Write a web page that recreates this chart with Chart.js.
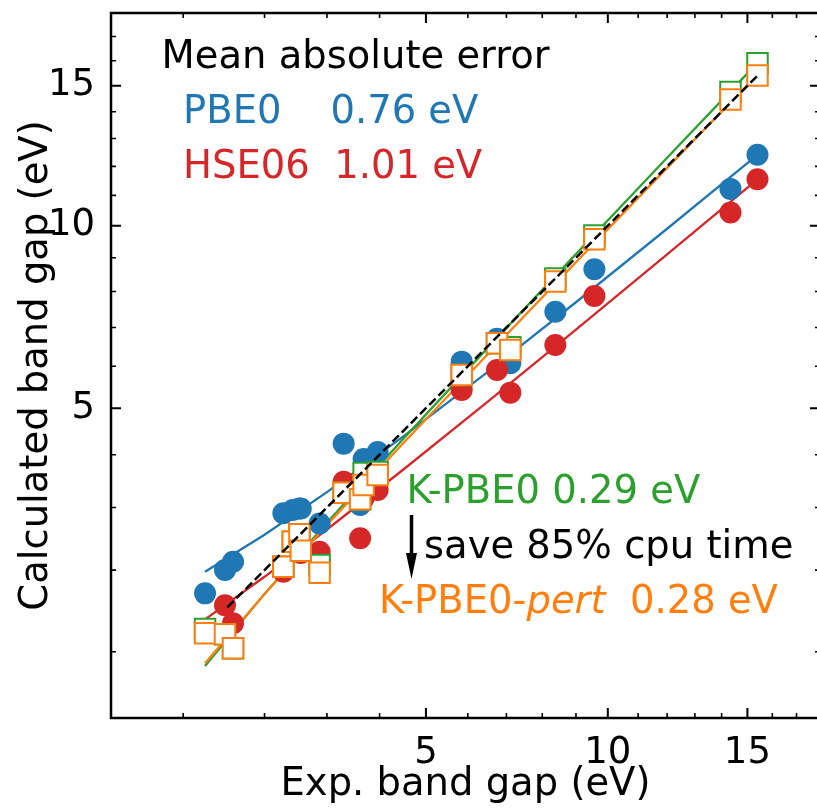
<!DOCTYPE html>
<html><head><meta charset="utf-8">
<script src="https://cdn.jsdelivr.net/npm/chart.js@4.4.1/dist/chart.umd.min.js"></script>
<style>
html,body{margin:0;padding:0;background:#fff;overflow:hidden;}
#wrap{width:817px;height:810px;overflow:hidden;position:relative;}
canvas{display:block;}
</style>
</head><body>
<div id="wrap"><canvas id="c" width="830" height="810"></canvas></div>
<script>
// ---- data (eV) ----
const expGap    = [1.235, 1.471, 1.572, 2.280, 2.428, 2.534, 2.556, 2.872, 3.302, 3.614, 3.682, 3.961, 5.848, 6.749, 7.106, 8.381, 9.572, 14.34, 15.40];
const pbe0      = [1.680, 2.001, 2.122, 2.900, 2.956, 2.983, 2.983, 2.725, 4.228, 3.044, 3.914, 4.055, 6.114, 6.700, 6.073, 7.433, 8.654, 11.22, 12.41];
const hse06     = [1.232, 1.526, 1.309, 1.977, 2.428, 2.551, 2.253, 2.273, 3.471, 2.483, 3.164, 3.316, 5.424, 5.906, 5.360, 6.540, 7.875, 10.43, 11.55];
const kpbe0     = [1.243, 1.184, 1.034, 2.049, 2.428, 2.547, 2.289, 2.074, 3.266, 3.146, 3.638, 3.657, 5.784, 6.584, 6.480, 8.382, 9.693, 14.76, 15.90];
const kpbe0pert = [1.195, 1.184, 1.034, 2.049, 2.428, 2.547, 2.289, 1.963, 3.266, 3.146, 3.409, 3.599, 5.784, 6.584, 6.410, 8.289, 9.573, 14.47, 15.41];
// fitted trend lines
const fitX         = [1.235, 2, 3, 4.5, 6.5, 9, 12, 15.4];
const fitPbe0      = [1.977, 2.540, 3.277, 4.381, 5.854, 7.696, 9.905, 12.409];
const fitHse06     = [1.355, 1.905, 2.625, 3.705, 5.144, 6.943, 9.102, 11.549];
const fitKpbe0     = [0.860, 1.673, 2.736, 4.331, 6.457, 9.114, 12.303, 15.917];
const fitKpbe0pert = [0.885, 1.671, 2.699, 4.240, 6.295, 8.864, 11.946, 15.440];
const diagX = [1.5, 15.4];
// axes
const tickValues = [1,2,3,4,5,6,7,8,9,10,11,12,13,14,15,16,17];
const tickLabels = {5:'5', 10:'10', 15:'15'};
const xRange = [0.4, 18.0];
const yRange = [0.44, 18.0];

const C_BLUE='#1f77b4', C_RED='#d62728', C_GREEN='#2ca02c', C_ORANGE='#ff7f0e';
const FS = 38.5;

// ---- square-root scale ----
const Linear = Chart.LinearScale || Chart.registry.getScale('linear');
class SqrtScale extends Linear {
  buildTicks() {
    return tickValues.filter(v => v >= this.min && v <= this.max)
      .map(v => ({value: v}));
  }
  configure() {
    super.configure();
    this._s0 = Math.sqrt(this.min);
    this._s1 = Math.sqrt(this.max);
  }
  getPixelForValue(v) {
    return this.getPixelForDecimal((Math.sqrt(Math.max(v, 0)) - this._s0) / (this._s1 - this._s0));
  }
  getValueForPixel(p) {
    const s = this._s0 + this.getDecimalForPixel(p) * (this._s1 - this._s0);
    return s * s;
  }
}
SqrtScale.id = 'sqrt';
SqrtScale.defaults = Linear.defaults;
Chart.register(SqrtScale);

Chart.defaults.font.family = 'DejaVu Sans';
Chart.defaults.color = '#000';

const pts = (xs, ys) => xs.map((x, i) => ({x, y: ys[i]}));

const decor = {
  id: 'decor',
  afterDatasetsDraw(chart) {
    const ctx = chart.ctx;
    const {left, right, top, bottom} = chart.chartArea;
    const xs = chart.scales.x, ys = chart.scales.y;
    ctx.save();
    ctx.strokeStyle = '#000';
    for (const v of tickValues) {
      const major = v in tickLabels;
      const len = major ? 10 : 5;
      ctx.lineWidth = major ? 2 : 1.6;
      const px = xs.getPixelForValue(v);
      if (px > left + 1 && px < right - 1) {
        ctx.beginPath();
        ctx.moveTo(px, bottom); ctx.lineTo(px, bottom - len);
        ctx.moveTo(px, top); ctx.lineTo(px, top + len);
        ctx.stroke();
      }
      const py = ys.getPixelForValue(v);
      if (py > top + 1 && py < bottom - 1) {
        ctx.beginPath();
        ctx.moveTo(left, py); ctx.lineTo(left + len, py);
        ctx.moveTo(right, py); ctx.lineTo(right - len, py);
        ctx.stroke();
      }
    }
    ctx.lineWidth = 2.5;
    ctx.strokeRect(left, top, right - left, bottom - top);

    // annotations
    const F = FS + 'px "DejaVu Sans"';
    const FI = 'italic ' + FS + 'px "DejaVu Sans"';
    ctx.textBaseline = 'alphabetic';
    ctx.textAlign = 'left';
    ctx.font = F;
    ctx.fillStyle = '#000';
    ctx.fillText('Mean absolute error', left + 50.5, top + 55);
    ctx.fillStyle = C_BLUE;
    ctx.fillText('PBE0    0.76 eV', left + 72, top + 110);
    ctx.fillStyle = C_RED;
    ctx.fillText('HSE06  1.01 eV', left + 72, top + 165);
    ctx.fillStyle = C_GREEN;
    ctx.fillText('K-PBE0 0.29 eV', left + 295.5, top + 490);
    ctx.fillStyle = '#000';
    ctx.fillText('save 85% cpu time', left + 313, top + 545);
    // arrow
    const ax = left + 300.5;
    ctx.lineWidth = 3.5;
    ctx.beginPath(); ctx.moveTo(ax, top + 502); ctx.lineTo(ax, top + 545); ctx.stroke();
    ctx.beginPath();
    ctx.moveTo(ax - 5.5, top + 540); ctx.lineTo(ax + 5.5, top + 540); ctx.lineTo(ax, top + 566);
    ctx.closePath(); ctx.fill();
    // orange label with italic part
    ctx.fillStyle = C_ORANGE;
    let tx = left + 268;
    const ty = top + 600;
    ctx.font = F; ctx.fillText('K-PBE0-', tx, ty); tx += ctx.measureText('K-PBE0-').width;
    ctx.font = FI; ctx.fillText('pert', tx, ty); tx += ctx.measureText('pert').width;
    ctx.font = F; ctx.fillText('  0.28 eV', tx, ty);
    ctx.restore();
  }
};

const circle = (label, data, color) => ({
  label, data, showLine: false,
  pointStyle: 'circle', pointRadius: 11, pointBorderWidth: 0,
  pointBackgroundColor: color, pointBorderColor: color
});
const square = (label, data, color) => ({
  label, data, showLine: false,
  pointStyle: 'rect', pointRadius: 14.5, pointBorderWidth: 2,
  pointBackgroundColor: '#fff', pointBorderColor: color
});
const line = (label, data, color, dash, w) => ({
  label, data, showLine: true, pointRadius: 0, borderWidth: w || 2.3,
  borderColor: color, borderDash: dash || [], fill: false, tension: 0
});

const zeroPad = s => { s.paddingLeft = 0; s.paddingRight = 0; s.paddingTop = 0; s.paddingBottom = 0; };

new Chart(document.getElementById('c'), {
  type: 'scatter',
  data: {
    datasets: [
      line('y = x', pts(diagX, diagX), '#000', [9, 4], 2.5),
      square('K-PBE0-pert', pts(expGap, kpbe0pert), C_ORANGE),
      square('K-PBE0', pts(expGap, kpbe0), C_GREEN),
      circle('HSE06', pts(expGap, hse06), C_RED),
      circle('PBE0', pts(expGap, pbe0), C_BLUE),
      line('K-PBE0-pert fit', pts(fitX, fitKpbe0pert), C_ORANGE),
      line('K-PBE0 fit', pts(fitX, fitKpbe0), C_GREEN),
      line('HSE06 fit', pts(fitX, fitHse06), C_RED),
      line('PBE0 fit', pts(fitX, fitPbe0), C_BLUE)
    ]
  },
  options: {
    responsive: false,
    devicePixelRatio: 1,
    animation: false,
    events: [],
    layout: {autoPadding: false, padding: {left: 0, right: 10, top: 13, bottom: 0}},
    plugins: {legend: {display: false}, tooltip: {enabled: false}},
    scales: {
      x: {
        type: 'sqrt', min: xRange[0], max: xRange[1],
        grid: {display: false}, border: {display: false},
        ticks: {autoSkip: false, maxRotation: 0, padding: 5, font: {size: 37},
                callback: v => tickLabels[v] || ''},
        title: {display: true, text: 'Exp. band gap (eV)', font: {size: FS}, padding: {top: 0, bottom: 2}},
        afterFit(s) { s.height = 92; zeroPad(s); }
      },
      y: {
        type: 'sqrt', min: yRange[0], max: yRange[1],
        grid: {display: false}, border: {display: false},
        ticks: {autoSkip: false, padding: 8, font: {size: 37},
                callback: v => tickLabels[v] || ''},
        title: {display: true, text: 'Calculated band gap (eV)', font: {size: FS}, padding: {top: 14, bottom: 0}},
        afterFit(s) { s.width = 111; zeroPad(s); }
      }
    }
  },
  plugins: [decor]
});
</script>
</body></html>
